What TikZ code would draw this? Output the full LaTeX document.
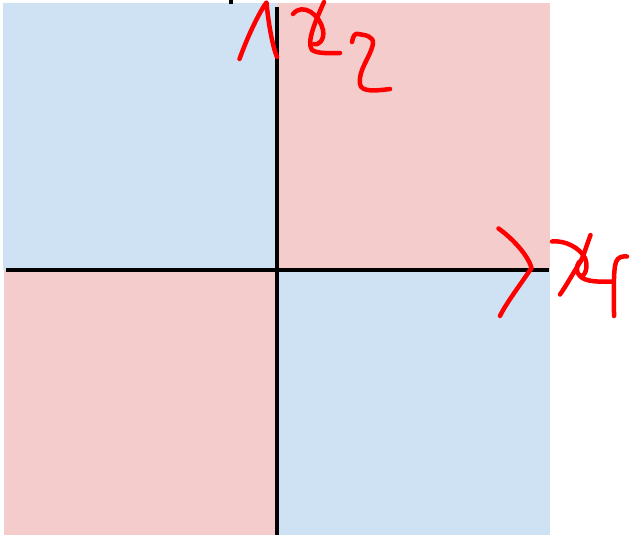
\documentclass[tikz,border=0pt]{standalone}
\definecolor{qblue}{HTML}{CFE2F3}
\definecolor{qpink}{HTML}{F4CCCC}
\definecolor{ink}{HTML}{FF0000}
\tikzset{
  axisline/.style={line width=4pt, black},
  hand/.style={line width=4.5pt, ink, line cap=round, line join=round},
}
\begin{document}
\begin{tikzpicture}[x=1pt,y=-1pt]
\useasboundingbox (0,0) rectangle (631,535);
% quadrants
\fill[qblue] (3,3) rectangle (276.5,270);
\fill[qpink] (276.5,3) rectangle (550,270);
\fill[qpink] (4,270) rectangle (276.5,535);
\fill[qblue] (276.5,270) rectangle (550,535);
% small black tick at top
\fill[black] (229,0) rectangle (233,4);
% axes
\coordinate (xl) at (6,270.3);
\coordinate (xr) at (549,270.3);
\coordinate (yt) at (276.5,7);
\coordinate (yb) at (276.5,535);
\draw[axisline] (xl) -- (xr);
\draw[axisline] (yt) -- (yb);
% hand-drawn arrowhead on x2 axis
\draw[hand] (239.5,59) .. controls (250,30) and (262,8) .. (266.5,2.5)
  .. controls (268,20) and (272,45) .. (277,57);
% "x" of x2
\draw[hand] (293,14) .. controls (303,2) and (320,15) .. (323,30)
  .. controls (325,40) and (318,46) .. (314,44);
\draw[hand] (324,2) .. controls (316,20) and (306,42) .. (312,50)
  .. controls (318,54) and (330,53) .. (340,53);
% "2"
\draw[hand] (352,42) .. controls (353,36) and (355,33) .. (358,34)
  .. controls (365,35) and (374,36) .. (373,44)
  .. controls (370,58) and (358,70) .. (360,84)
  .. controls (361,92) and (375,91) .. (390,89);
% hand-drawn arrowhead on x1 axis
\draw[hand] (498.5,228.5) .. controls (512,238) and (528,255) .. (531.5,268)
  .. controls (520,285) and (505,305) .. (500,316);
% "x" of x1
\draw[hand] (552,241.5) .. controls (565,240) and (580,248) .. (585,258)
  .. controls (589,268) and (584,278) .. (580,276)
  .. controls (575,272) and (577,265) .. (579,262);
\draw[hand] (590.5,235) .. controls (585,250) and (583,258) .. (579,264)
  .. controls (572,275) and (566,286) .. (560,294.5);
\draw[hand] (580,276) .. controls (585,282) and (600,282) .. (613,281.5);
% "1" / hook
\draw[hand] (614,316) .. controls (614,295) and (613,270) .. (616,262)
  .. controls (618,257) and (622,256) .. (627,256.5);
\end{tikzpicture}
\end{document}
